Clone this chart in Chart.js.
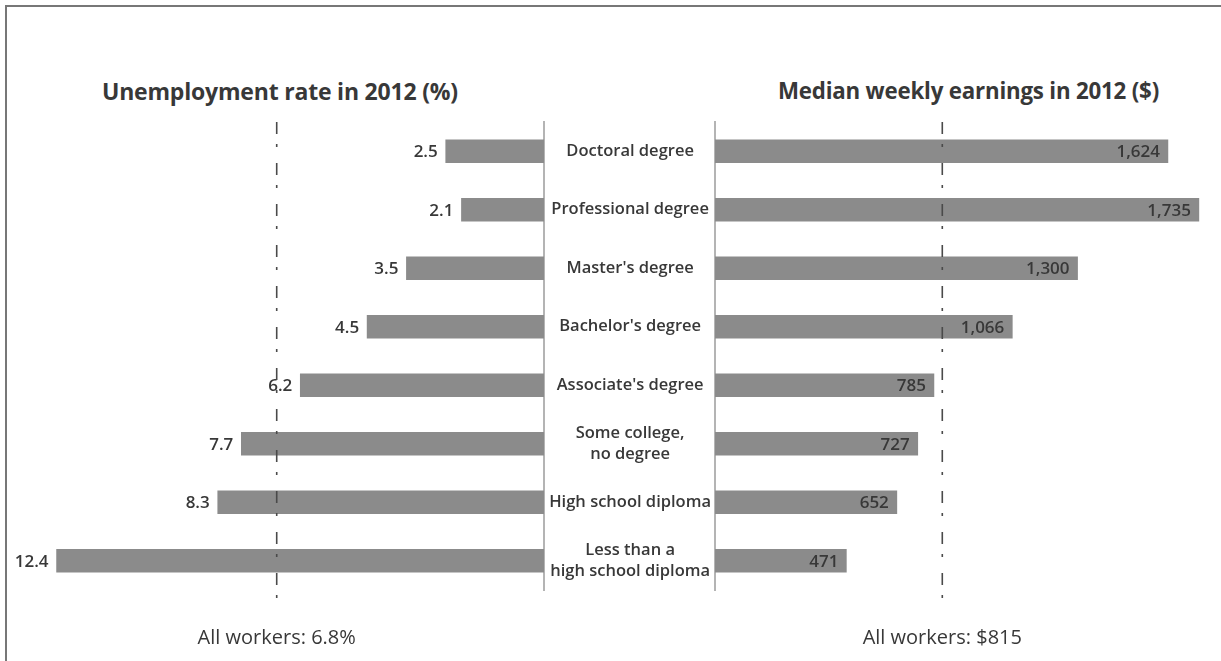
<!DOCTYPE html>
<html>
<head>
<meta charset="utf-8">
<script src="https://cdn.jsdelivr.net/npm/chart.js@4"></script>
<style>
  html, body { margin: 0; padding: 0; background: #fff; }
  body { width: 1221px; height: 661px; position: relative; overflow: hidden; font-family: "Open Sans", sans-serif; }
  .frame { position: absolute; left: 5px; top: 5px; width: 1240px; height: 700px; border-left: 2px solid #777; border-top: 2px solid #777; }
  .title { position: absolute; top: 76px; font-size: 23px; line-height: 30px; font-weight: 700; color: #383838; white-space: nowrap; letter-spacing: -0.2px; }
  #left { position: absolute; left: 0; top: 0; }
  #right { position: absolute; left: 545px; top: 0; }
</style>
</head>
<body>
<div class="frame"></div>
<div class="title" style="left:102px">Unemployment rate in 2012 (%)</div>
<div class="title" style="left:778px; font-size:22.3px">Median weekly earnings in 2012 ($)</div>
<canvas id="left" width="546" height="661"></canvas>
<canvas id="right" width="676" height="661"></canvas>
<script>
const categories = [
  "Doctoral degree",
  "Professional degree",
  "Master's degree",
  "Bachelor's degree",
  "Associate's degree",
  ["Some college,", "no degree"],
  "High school diploma",
  ["Less than a", "high school diploma"]
];
const unemployment = [2.5, 2.1, 3.5, 4.5, 6.2, 7.7, 8.3, 12.4];
const earnings = [1624, 1735, 1300, 1066, 785, 727, 652, 471];
const allWorkersRate = 6.8;
const allWorkersEarnings = 815;

const barColor = "#8b8b8b";
const textColor = "#383838";
const axisColor = "#b4b4b4";

// dash-dot reference line plus its caption under the chart
function refLine(value, caption) {
  return {
    id: "refLine",
    afterDatasetsDraw(chart) {
      const ctx = chart.ctx;
      const x = chart.scales.x.getPixelForValue(value);
      const area = chart.chartArea;
      ctx.save();
      ctx.strokeStyle = "#4a4a4a";
      ctx.lineWidth = 1.6;
      ctx.setLineDash([12, 10, 3, 16]);
      ctx.beginPath();
      ctx.moveTo(x, area.top);
      ctx.lineTo(x, area.bottom + 18);
      ctx.stroke();
      ctx.setLineDash([]);
      ctx.fillStyle = textColor;
      ctx.font = "20px 'Open Sans'";
      ctx.textAlign = "center";
      ctx.textBaseline = "middle";
      ctx.fillText(caption, x, 638);
      ctx.restore();
    }
  };
}

// value labels: outside the bar end on the left, inside the bar end on the right
function valueLabels(format) {
  return {
    id: "valueLabels",
    afterDatasetsDraw(chart) {
      const ctx = chart.ctx;
      const meta = chart.getDatasetMeta(0);
      const data = chart.data.datasets[0].data;
      ctx.save();
      ctx.fillStyle = textColor;
      ctx.font = "600 17px 'Open Sans'";
      ctx.textAlign = "right";
      ctx.textBaseline = "middle";
      meta.data.forEach((bar, i) => {
        ctx.fillText(format(data[i]), bar.x - 8, bar.y + 1);
      });
      ctx.restore();
    }
  };
}

const bandTop = 122;
const bandBottom = 590;

new Chart(document.getElementById("left"), {
  type: "bar",
  data: {
    labels: categories,
    datasets: [{ data: unemployment, backgroundColor: barColor, barThickness: 23 }]
  },
  options: {
    indexAxis: "y",
    responsive: false,
    animation: false,
    layout: { padding: { left: 33, right: 0, top: bandTop, bottom: 661 - bandBottom } },
    plugins: { legend: { display: false }, tooltip: { enabled: false } },
    scales: {
      x: { display: false, reverse: true, min: 0, max: 13 },
      y: {
        position: "right",
        grid: { display: false },
        ticks: { display: false },
        border: { display: true, color: axisColor, width: 2 },
        afterFit: s => { s.width = 2; }
      }
    }
  },
  plugins: [valueLabels(v => v.toFixed(1)), refLine(allWorkersRate, "All workers: " + allWorkersRate + "%")]
});

new Chart(document.getElementById("right"), {
  type: "bar",
  data: {
    labels: categories,
    datasets: [{ data: earnings, backgroundColor: barColor, barThickness: 23 }]
  },
  options: {
    indexAxis: "y",
    responsive: false,
    animation: false,
    layout: { padding: { left: 0, right: 4, top: bandTop, bottom: 661 - bandBottom } },
    plugins: { legend: { display: false }, tooltip: { enabled: false } },
    scales: {
      x: { display: false, min: 0, max: 1800 },
      y: {
        position: "left",
        grid: { display: false, drawTicks: false },
        border: { display: true, color: axisColor, width: 2 },
        ticks: {
          color: textColor,
          font: { family: "'Open Sans'", size: 16.5, weight: "600", lineHeight: 1.3 },
          crossAlign: "center",
          padding: 4
        },
        afterFit: s => { s.width = 170; }
      }
    }
  },
  plugins: [valueLabels(v => v.toLocaleString("en-US")), refLine(allWorkersEarnings, "All workers: $" + allWorkersEarnings)]
});
</script>
</body>
</html>
